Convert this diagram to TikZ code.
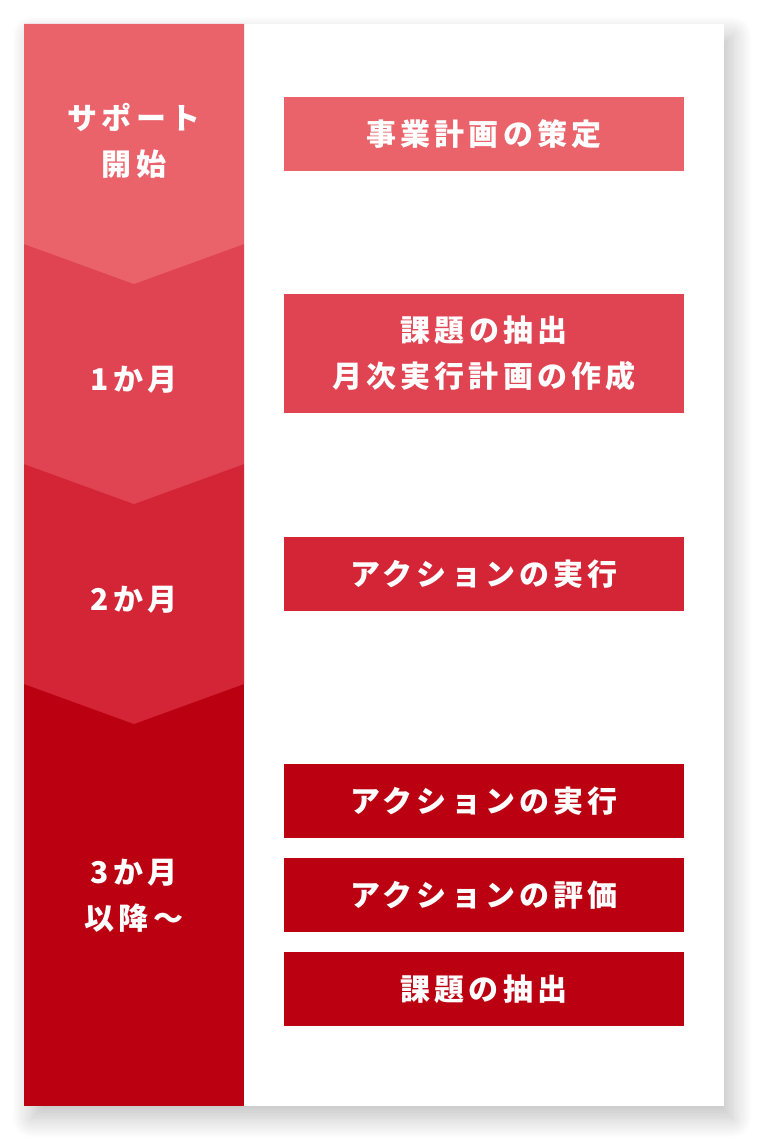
\documentclass[tikz,border=0pt]{standalone}
\usepackage{fontspec}
\usetikzlibrary{shadows.blur}
\newfontfamily\jpfont[LetterSpace=14]{Noto Sans CJK JP}
\definecolor{bandA}{HTML}{EA636B}
\definecolor{bandB}{HTML}{E04452}
\definecolor{bandC}{HTML}{D42536}
\definecolor{bandD}{HTML}{BA0011}
\tikzset{
  lbl/.style={text=white, align=center, font=\jpfont\bfseries\fontsize{30}{46}\selectfont, inner sep=0pt},
  stepbox/.style={lbl, minimum width=400pt, anchor=center},
}
\begin{document}
\begin{tikzpicture}[x=1pt,y=-1pt]
\useasboundingbox (0,0) rectangle (760,1142);
% card with shadow
\path[fill=white, blur shadow={shadow xshift=8pt, shadow yshift=-12pt, shadow blur radius=20pt, shadow blur steps=20, shadow opacity=25}] (24,24) rectangle (724,1106);
% bands
\fill[bandD] (24,684) rectangle (244,1106);
\fill[bandC] (24,464) -- (244,464) -- (244,684) -- (134,724) -- (24,684) -- cycle;
\fill[bandB] (24,244) -- (244,244) -- (244,464) -- (134,504) -- (24,464) -- cycle;
\fill[bandA] (24,24) -- (244,24) -- (244,244) -- (134,284) -- (24,244) -- cycle;
% band labels
\node[lbl] (t0) at (134,141) {サポート\\開始};
\node[lbl] (t1) at (134,380) {1か月};
\node[lbl] (t2) at (134,600) {2か月};
\node[lbl] (t3) at (134,895.5) {3か月\\以降〜};
% step boxes
\node[stepbox, fill=bandA, minimum height=74pt] (b1) at (484,134) {事業計画の策定};
\node[stepbox, fill=bandB, minimum height=119pt] (b2) at (484,353.5) {課題の抽出\\月次実行計画の作成};
\node[stepbox, fill=bandC, minimum height=74pt] (b3) at (484,574) {アクションの実行};
\node[stepbox, fill=bandD, minimum height=74pt] (b4) at (484,801) {アクションの実行};
\node[stepbox, fill=bandD, minimum height=74pt] (b5) at (484,895) {アクションの評価};
\node[stepbox, fill=bandD, minimum height=74pt] (b6) at (484,989) {課題の抽出};
\end{tikzpicture}
\end{document}
